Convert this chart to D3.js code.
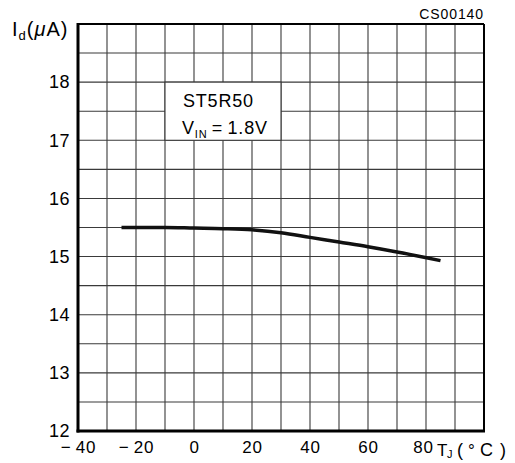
<!DOCTYPE html>
<html><head><meta charset="utf-8">
<script src="https://cdn.jsdelivr.net/npm/d3@7/dist/d3.min.js"></script>
<style>
body{margin:0;background:#fff;}
text{font-family:"Liberation Sans",Arial,sans-serif;fill:#000;}
</style></head>
<body><svg id="c" width="515" height="463"></svg>
<script>
const tempC = [-25, -10, 0, 10, 20, 30, 40, 50, 60, 70, 85];
const idUA  = [15.5, 15.5, 15.49, 15.48, 15.46, 15.41, 15.33, 15.25, 15.17, 15.08, 14.93];
const xTicks = [-40, -20, 0, 20, 40, 60, 80];
const yTicks = [12, 13, 14, 15, 16, 17, 18];
const deviceLabel = "ST5R50";
const figureCode = "CS00140";

const svg = d3.select("#c");
const L = 78, T = 24, W = 406, H = 407;
const x = d3.scaleLinear().domain([-40, 100]).range([L, L + W]);
const y = d3.scaleLinear().domain([12, 19]).range([T + H, T]);

// grid
const g = svg.append("g");
g.selectAll(".vx").data(d3.range(-30, 100, 10)).join("line")
  .attr("x1", d => x(d)).attr("x2", d => x(d)).attr("y1", T).attr("y2", T + H)
  .attr("stroke", "#3a3a3a").attr("stroke-width", 1.1);
g.selectAll(".hy").data(d3.range(12.5, 19, 0.5)).join("line")
  .attr("y1", d => y(d)).attr("y2", d => y(d)).attr("x1", L).attr("x2", L + W)
  .attr("stroke", "#3a3a3a").attr("stroke-width", 1.1);

// label box mask
svg.append("rect").attr("x", x(-10)).attr("y", y(18))
  .attr("width", x(30) - x(-10)).attr("height", y(17) - y(18))
  .attr("fill", "#fff").attr("stroke", "#3a3a3a").attr("stroke-width", 1.1);
svg.append("text").attr("x", 183).attr("y", 107).attr("font-size", 18).attr("letter-spacing", 0.8).text(deviceLabel);
const vt = svg.append("text").attr("x", 182).attr("y", 134).attr("font-size", 18).attr("letter-spacing", 0.8);
vt.append("tspan").text("V");
vt.append("tspan").attr("font-size", 11).attr("dy", 4).text("IN");
vt.append("tspan").attr("dy", -4).text("\u2009=\u20091.8V");

// frame
svg.append("line").attr("x1", L).attr("x2", L + W).attr("y1", T).attr("y2", T).attr("stroke", "#000").attr("stroke-width", 2);
svg.append("line").attr("x1", L + W).attr("x2", L + W).attr("y1", T).attr("y2", T + H).attr("stroke", "#000").attr("stroke-width", 2);
svg.append("line").attr("x1", L).attr("x2", L).attr("y1", T - 1).attr("y2", T + H + 1.5).attr("stroke", "#000").attr("stroke-width", 3);
svg.append("line").attr("x1", L - 1.5).attr("x2", L + W + 1).attr("y1", T + H).attr("y2", T + H).attr("stroke", "#000").attr("stroke-width", 3);

// axes (labels only)
const fmt = d => d < 0 ? "\u2212\u2009" + Math.abs(d) : String(d);
const xa = svg.append("g").attr("transform", `translate(0,${T + H})`)
  .call(d3.axisBottom(x).tickValues(xTicks).tickSize(0).tickPadding(10).tickFormat(fmt));
xa.select(".domain").remove();
xa.selectAll("text").attr("font-size", 17).attr("font-family", "Liberation Sans,Arial,sans-serif").attr("fill", "#000")
  .attr("letter-spacing", 0.8).attr("dy", "0.71em");
xa.selectAll(".tick").filter(d => d === 80).select("text").attr("dx", -3);
const ya = svg.append("g").attr("transform", `translate(${L},0)`)
  .call(d3.axisLeft(y).tickValues(yTicks).tickSize(0).tickPadding(8).tickFormat(d3.format("d")));
ya.select(".domain").remove();
ya.selectAll("text").attr("font-size", 18).attr("font-family", "Liberation Sans,Arial,sans-serif").attr("fill", "#000")
  .attr("letter-spacing", 0.5);

// axis titles
const xt = svg.append("text").attr("y", 456).attr("font-size", 17);
xt.append("tspan").attr("x", 437).text("T");
xt.append("tspan").attr("x", 447).attr("font-size", 11).attr("dy", 2).text("J");
xt.append("tspan").attr("x", 457).attr("dy", -2).attr("font-size", 18).text("(");
xt.append("tspan").attr("x", 468).text("\u00B0");
xt.append("tspan").attr("x", 480).attr("font-size", 18).text("C");
xt.append("tspan").attr("x", 500).attr("font-size", 18).text(")");
const yt = svg.append("text").attr("x", 12).attr("y", 36).attr("font-size", 20).attr("letter-spacing", 1);
yt.append("tspan").text("I");
yt.append("tspan").attr("font-size", 13).attr("dy", 4).text("d");
yt.append("tspan").attr("dy", -4).text("(");
yt.append("tspan").attr("font-style", "italic").text("\u03BC");
yt.append("tspan").text("A)");
svg.append("text").attr("x", 484).attr("y", 19).attr("font-size", 14).attr("letter-spacing", 0.9).attr("text-anchor", "end").text(figureCode);

// curve
const line = d3.line().x((d, i) => x(tempC[i])).y(d => y(d)).curve(d3.curveMonotoneX);
svg.append("path").datum(idUA).attr("d", line).attr("fill", "none")
  .attr("stroke", "#111").attr("stroke-width", 3.5).attr("stroke-linecap", "butt");
</script></body></html>
